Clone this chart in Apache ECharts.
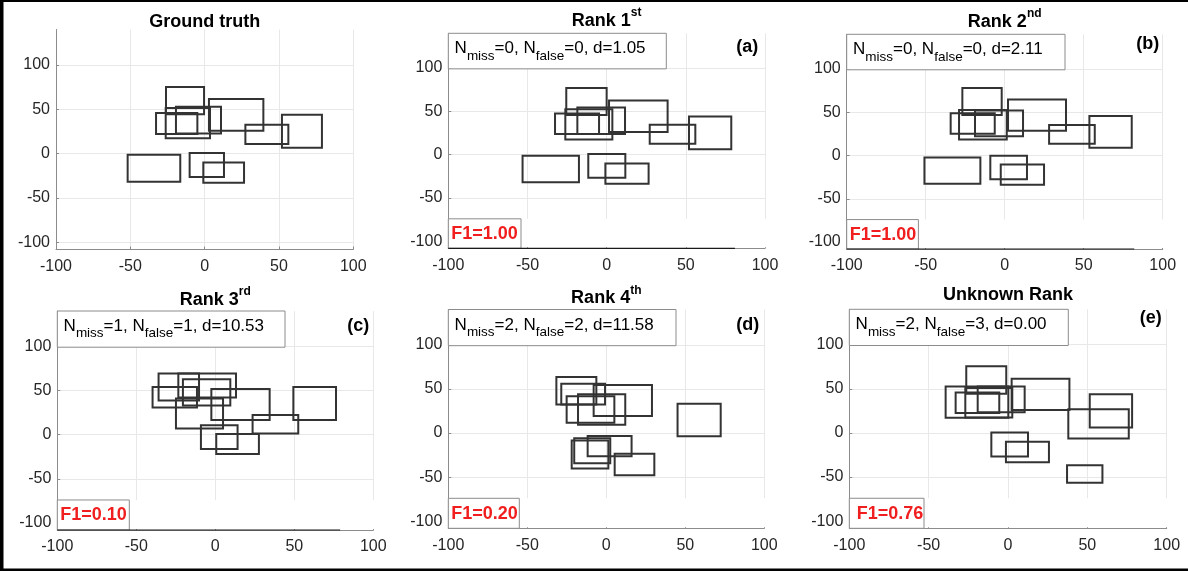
<!DOCTYPE html>
<html>
<head>
<meta charset="utf-8">
<script src="https://cdn.jsdelivr.net/npm/echarts@6/dist/echarts.min.js"></script>
<style>
  html, body { margin: 0; padding: 0; background: #fff; }
  #chart { width: 1188px; height: 571px; }
</style>
</head>
<body>
<div id="chart"></div>
<script>
// Axis settings shared by all six panels
const X_TICKS = [-100, -50, 0, 50, 100];
const Y_TICKS = [-100, -50, 0, 50, 100];
const X_RANGE = [-100, 100];
const Y_RANGE = [-108, 140];

// Panel headings and scores
const titleText = ['Ground truth', 'Rank 1', 'Rank 2', 'Rank 3', 'Rank 4', 'Unknown Rank'];
const titleSup = ['', 'st', 'nd', 'rd', 'th', ''];
const panelTags = ['', '(a)', '(b)', '(c)', '(d)', '(e)'];
const nMiss = [null, 0, 0, 1, 2, 2];
const nFalse = [null, 0, 0, 1, 2, 3];
const distance = [null, '1.05', '2.11', '10.53', '11.58', '0.00'];
const f1Score = [null, '1.00', '1.00', '0.10', '0.20', '0.76'];

// Boxes per panel: [xMin, xMax, yMin, yMax]
const groundTruth = [
  [-26.0, -0.4, 44.4, 75.2],
  [2.9, 39.5, 25.9, 61.7],
  [-19.3, 11.0, 22.9, 53.0],
  [-26.2, 3.6, 17.3, 51.5],
  [-32.7, -4.9, 22.2, 45.9],
  [27.4, 56.3, 10.9, 32.7],
  [52.0, 78.9, 6.8, 44.0],
  [-51.8, -16.4, -31.6, -1.1],
  [-10.1, 13.0, -26.3, 0.8],
  [-0.9, 26.5, -32.7, -9.8]
];
const rank1 = [
  [-25.5, 0.0, 45.9, 77.0],
  [1.5, 38.5, 26.1, 62.6],
  [-18.5, 11.6, 23.7, 54.5],
  [-26.1, 3.6, 17.5, 52.5],
  [-32.6, -4.8, 23.7, 47.5],
  [27.2, 56.0, 12.5, 34.6],
  [52.0, 78.7, 6.2, 44.0],
  [-53.1, -17.5, -31.9, -1.2],
  [-11.6, 11.8, -26.5, 0.8],
  [-0.8, 26.5, -33.5, -10.1]
];
const rank2 = [
  [-26.8, -1.9, 46.9, 77.9],
  [2.1, 38.8, 28.7, 64.7],
  [-18.8, 11.6, 22.1, 51.9],
  [-28.9, 1.3, 18.6, 52.7],
  [-34.2, -6.3, 25.2, 48.8],
  [28.1, 57.0, 13.6, 35.3],
  [53.6, 80.4, 8.9, 45.7],
  [-50.8, -15.4, -32.6, -2.3],
  [-9.1, 14.1, -27.5, -0.4],
  [-2.5, 24.9, -33.7, -10.5]
];
const rank3 = [
  [-35.9, -10.3, 38.7, 69.1],
  [-23.4, 13.1, 42.1, 69.1],
  [-20.5, 9.5, 33.0, 62.7],
  [-39.7, -11.6, 30.7, 53.9],
  [-2.5, 34.4, 16.6, 51.6],
  [-24.9, 4.9, 7.0, 41.0],
  [49.4, 76.4, 16.6, 53.9],
  [23.6, 52.5, 1.3, 22.3],
  [-9.1, 14.1, -16.2, 10.5],
  [0.6, 27.6, -21.9, 0.6]
];
const rank4 = [
  [-31.6, -6.3, 32.2, 63.4],
  [-28.5, -0.8, 32.2, 55.8],
  [-8.0, 28.9, 19.2, 54.3],
  [-25.1, 5.1, 11.6, 41.7],
  [-17.9, 12.0, 9.3, 44.0],
  [45.1, 72.4, -3.6, 33.3],
  [-11.8, 16.0, -26.3, -3.5],
  [-20.3, 2.5, -34.4, -5.8],
  [-21.9, 1.3, -40.1, -8.6],
  [5.3, 30.4, -47.8, -23.4]
];
const unknownRank = [
  [-26.3, -1.1, 44.4, 75.4],
  [2.3, 38.7, 25.9, 61.4],
  [-19.1, 10.5, 23.3, 52.7],
  [-39.3, 0.2, 17.2, 52.5],
  [-33.0, -5.5, 22.5, 45.9],
  [-26.9, 2.7, 17.6, 50.9],
  [51.5, 78.2, 6.2, 43.7],
  [38.0, 76.1, -6.2, 26.7],
  [-10.5, 12.6, -26.7, 0.6],
  [-1.3, 25.8, -33.1, -10.0],
  [37.2, 59.5, -56.5, -36.5]
];
const panelBoxes = [groundTruth, rank1, rank2, rank3, rank4, unknownRank];

// Plot-area placement (pixels) and annotation geometry
const layout = [
  { left: 56,    top: 29.5, width: 297.3, height: 220,   titleY: 21.7 },
  { left: 448.3, top: 33.3, width: 316.7, height: 215,   titleY: 20.7, boxW: 218,   f1W: 72.7, f1Pad: 3,   tagY: 47,    tagRight: 6.7, darkEdge: 81 },
  { left: 846.7, top: 34.3, width: 316,   height: 214.7, titleY: 21.7, boxW: 218.3, f1W: 71.7, f1Pad: 3,   tagY: 44,    tagRight: 3.5, darkEdge: 82 },
  { left: 57.3,  top: 311,  width: 316,   height: 219,   titleY: 300,  boxW: 227.7, f1W: 72,   f1Pad: 3,   tagY: 326,   tagRight: 4,   darkEdge: 79 },
  { left: 448.3, top: 309.5,width: 316,   height: 218.8, titleY: 298.3,boxW: 227.7, f1W: 71,   f1Pad: 3,   tagY: 325,   tagRight: 5 },
  { left: 849.3, top: 309.3,width: 317.4, height: 219,   titleY: 295,  boxW: 219,   f1W: 74.7, f1Pad: 7.4, tagY: 318.3, tagRight: 5 }
];

const FONT = '"Liberation Sans", Arial, Helvetica, sans-serif';
const AXIS_GRAY = '#8c8c8c';
const GRID_GRAY = '#e8e8e8';
const TEXT_DARK = '#262626';
const BOX_STROKE = '#333333';
const F1_RED = '#f01e1e';

const chart = echarts.init(document.getElementById('chart'), null, { renderer: 'canvas' });

function renderBox(params, api) {
  const topLeft = api.coord([api.value(0), api.value(3)]);
  const bottomRight = api.coord([api.value(1), api.value(2)]);
  return {
    type: 'rect',
    shape: {
      x: topLeft[0], y: topLeft[1],
      width: bottomRight[0] - topLeft[0],
      height: bottomRight[1] - topLeft[1]
    },
    style: { fill: 'none', stroke: BOX_STROKE, lineWidth: 2 }
  };
}

const grids = [], xAxes = [], yAxes = [], series = [];
layout.forEach((g, i) => {
  grids.push({ left: g.left, top: g.top, width: g.width, height: g.height, containLabel: false });
  xAxes.push({
    gridIndex: i, type: 'value', min: X_RANGE[0], max: X_RANGE[1], interval: 50,
    axisLine: { show: true, onZero: false, lineStyle: { color: AXIS_GRAY, width: 1 } },
    axisTick: { show: true, inside: true, length: 3, lineStyle: { color: AXIS_GRAY } },
    axisLabel: { color: TEXT_DARK, fontSize: 16, fontFamily: FONT, margin: 9 },
    splitLine: { show: true, lineStyle: { color: GRID_GRAY, width: 1 } }
  });
  yAxes.push({
    gridIndex: i, type: 'value', min: Y_RANGE[0], max: Y_RANGE[1],
    axisLine: { show: true, onZero: false, lineStyle: { color: AXIS_GRAY, width: 1 } },
    axisTick: { show: true, inside: true, length: 3, customValues: Y_TICKS, lineStyle: { color: AXIS_GRAY } },
    axisLabel: { customValues: Y_TICKS, color: TEXT_DARK, fontSize: 16, fontFamily: FONT, margin: 6 },
    splitLine: { show: true, lineStyle: { color: GRID_GRAY, width: 1 } }
  });
  series.push({
    type: 'custom', xAxisIndex: i, yAxisIndex: i, z: 5,
    renderItem: renderBox,
    encode: { x: [0, 1], y: [2, 3] },
    data: panelBoxes[i],
    silent: true
  });
});

chart.setOption({
  animation: false,
  backgroundColor: '#ffffff',
  grid: grids,
  xAxis: xAxes,
  yAxis: yAxes,
  series: series
});

// Annotations: titles, score boxes, panel tags, figure frame
const graphics = [];
layout.forEach((g, i) => {
  const cx = chart.convertToPixel({ gridIndex: i }, [0, 0])[0];
  graphics.push({
    type: 'text', z: 20,
    style: {
      x: cx, y: g.titleY, align: 'center', verticalAlign: 'middle',
      text: titleSup[i] ? '{b|' + titleText[i] + '}{sup|' + titleSup[i] + '}' : '{b|' + titleText[i] + '}',
      rich: {
        b: { fontSize: 18, fontWeight: 'bold', fontFamily: FONT, fill: '#000', lineHeight: 28, verticalAlign: 'middle' },
        sup: { fontSize: 12, fontWeight: 'bold', fontFamily: FONT, fill: '#000', lineHeight: 12, verticalAlign: 'top' }
      }
    }
  });
  if (i === 0) return;

  const bottom = g.top + g.height;
  const right = g.left + g.width;
  const yBoxBottom = chart.convertToPixel({ gridIndex: i }, [0, 99])[1];
  const yF1Top = chart.convertToPixel({ gridIndex: i }, [0, -74])[1];

  // white band along the lower edge of the plot
  graphics.push({
    type: 'rect', z: 1,
    shape: { x: g.left + 1, y: yF1Top, width: g.width + 1, height: bottom - yF1Top - 1 },
    style: { fill: '#ffffff' }
  });
  if (g.darkEdge !== undefined) {
    const xe = chart.convertToPixel({ gridIndex: i }, [g.darkEdge, 0])[0];
    graphics.push({
      type: 'line', z: 20,
      shape: { x1: g.left, y1: bottom, x2: xe, y2: bottom },
      style: { stroke: '#1a1a1a', lineWidth: 1.2 }
    });
  }

  // statistics box
  graphics.push({
    type: 'rect', z: 15,
    shape: { x: g.left, y: g.top, width: g.boxW, height: yBoxBottom - g.top },
    style: { fill: '#ffffff', stroke: AXIS_GRAY, lineWidth: 1 }
  });
  graphics.push({
    type: 'text', z: 16,
    style: {
      x: g.left + 6.3, y: g.top + 15.5, align: 'left', verticalAlign: 'middle',
      text: '{m|N}{s|miss}{m|=' + nMiss[i] + ', N}{s|false}{m|=' + nFalse[i] + ', d=' + distance[i] + '}',
      rich: {
        m: { fontSize: 17, fontFamily: FONT, fill: '#000', lineHeight: 28, verticalAlign: 'middle' },
        s: { fontSize: 13.5, fontFamily: FONT, fill: '#000', lineHeight: 14, verticalAlign: 'bottom' }
      }
    }
  });

  // F1 box
  graphics.push({
    type: 'rect', z: 15,
    shape: { x: g.left, y: yF1Top, width: g.f1W, height: bottom - yF1Top },
    style: { fill: '#ffffff', stroke: AXIS_GRAY, lineWidth: 1 }
  });
  graphics.push({
    type: 'text', z: 16,
    style: {
      x: g.left + g.f1Pad, y: (yF1Top + bottom) / 2 + 0.5, align: 'left', verticalAlign: 'middle',
      text: 'F1=' + f1Score[i],
      fontSize: 18, fontWeight: 'bold', fontFamily: FONT, fill: F1_RED
    }
  });

  // panel tag
  graphics.push({
    type: 'text', z: 16,
    style: {
      x: right - g.tagRight, y: g.tagY, align: 'right', verticalAlign: 'middle',
      text: panelTags[i], fontSize: 18, fontWeight: 'bold', fontFamily: FONT, fill: '#000'
    }
  });
});

// figure frame (top, left, bottom edges)
graphics.push({ type: 'rect', z: 30, shape: { x: 0, y: 0, width: 1188, height: 2 }, style: { fill: '#000' } });
graphics.push({ type: 'rect', z: 30, shape: { x: 0, y: 0, width: 3.5, height: 571 }, style: { fill: '#000' } });
graphics.push({ type: 'rect', z: 30, shape: { x: 0, y: 568.5, width: 1188, height: 2.5 }, style: { fill: '#000' } });

chart.setOption({ graphic: { elements: graphics } });
</script>
</body>
</html>
